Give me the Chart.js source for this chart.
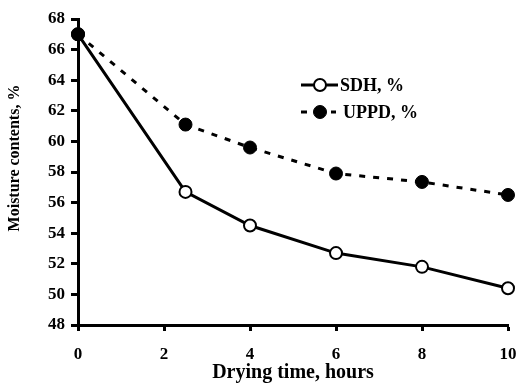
<!DOCTYPE html>
<html>
<head>
<meta charset="utf-8">
<script src="https://cdn.jsdelivr.net/npm/chart.js@4/dist/chart.umd.min.js"></script>
<style>
  html, body { margin: 0; padding: 0; background: #fff; }
  #wrap { width: 522px; height: 385px; }
</style>
</head>
<body>
<div id="wrap"><canvas id="moisture-chart"></canvas></div>
<script>
// Data
const hours = [0, 2.5, 4, 6, 8, 10];
const sdhValues = [67, 56.7, 54.5, 52.7, 51.8, 50.4];
const uppdValues = [67, 61.1, 59.6, 57.9, 57.35, 56.5];
const xTickValues = [0, 2, 4, 6, 8, 10];
const yTickValues = [48, 50, 52, 54, 56, 58, 60, 62, 64, 66, 68];
const seriesNames = ['SDH, %', 'UPPD, %'];
const yTitle = 'Moisture contents, %';
const xTitle = 'Drying time, hours';

const FONT = '"Liberation Serif", "Times New Roman", serif';

/**
 * Legend drawn inside the plot, plus the y title (sits a bit above centre)
 */
const extras = {
    id: 'extras',
    afterDraw(chart) {
        const ctx = chart.ctx;
        const x0 = 301, x1 = 338, xm = 320;
        const rows = [85, 112];
        ctx.save();
        // legend rows, in dataset order
        [0, 1].forEach(i => {
            const ds = chart.data.datasets[i];
            const y = rows[i];
            ctx.strokeStyle = '#000';
            ctx.lineWidth = 3;
            ctx.beginPath();
            if (ds.borderDash && ds.borderDash.length) {
                ctx.moveTo(x0, y); ctx.lineTo(x0 + 6, y);
                ctx.moveTo(x1 - 7, y); ctx.lineTo(x1 - 2, y);
            } else {
                ctx.moveTo(x0, y); ctx.lineTo(x1, y);
            }
            ctx.stroke();
            ctx.beginPath();
            ctx.arc(xm, y, ds.pointRadius, 0, Math.PI * 2);
            ctx.fillStyle = ds.pointBackgroundColor;
            ctx.fill();
            ctx.lineWidth = ds.pointBorderWidth;
            ctx.stroke();
            ctx.fillStyle = '#000';
            ctx.font = 'bold 18px ' + FONT;
            ctx.textBaseline = 'middle';
            ctx.fillText(ds.label, i === 0 ? 340 : 343, y + 1);
        });
        // y axis title
        ctx.translate(15, 158);
        ctx.rotate(-Math.PI / 2);
        ctx.font = 'bold 16px ' + FONT;
        ctx.textAlign = 'center';
        ctx.textBaseline = 'middle';
        ctx.fillStyle = '#000';
        ctx.fillText(yTitle, 0, 0);
        ctx.restore();
    }
};

new Chart(document.getElementById('moisture-chart'), {
    type: 'line',
    data: {
        labels: hours,
        datasets: [{
            label: seriesNames[0],
            data: hours.map((h, i) => ({ x: h, y: sdhValues[i] })),
            borderColor: '#000',
            borderWidth: 3,
            pointRadius: 6,
            pointBackgroundColor: '#fff',
            pointBorderColor: '#000',
            pointBorderWidth: 2,
            tension: 0,
            clip: false,
            order: 2
        }, {
            label: seriesNames[1],
            data: hours.map((h, i) => ({ x: h, y: uppdValues[i] })),
            borderColor: '#000',
            borderWidth: 3,
            borderDash: [6, 8],
            pointRadius: 6.5,
            pointBackgroundColor: '#000',
            pointBorderColor: '#000',
            pointBorderWidth: 1,
            tension: 0,
            clip: false,
            order: 1
        }]
    },
    options: {
        responsive: true,
        maintainAspectRatio: false,
        animation: false,
        layout: { padding: { left: 0, right: 14, top: 19, bottom: 0 } },
        plugins: {
            legend: { display: false },
            tooltip: { enabled: false }
        },
        scales: {
            x: {
                type: 'linear',
                min: 0,
                max: 10,
                afterBuildTicks: (scale) => { scale.ticks = xTickValues.map(v => ({ value: v })); },
                afterFit: (scale) => {
                    scale.height = 60;
                    scale.paddingRight = 0;
                    scale.paddingLeft = 0;
                },
                border: { display: true, color: '#000', width: 3 },
                grid: { drawOnChartArea: false, tickLength: 6, tickColor: '#000', tickWidth: 3 },
                ticks: { color: '#000', font: { family: FONT, size: 17, weight: 'bold' }, padding: 13 },
                title: {
                    display: true,
                    text: xTitle,
                    color: '#000',
                    font: { family: FONT, size: 20, weight: 'bold' },
                    padding: { top: 0, bottom: 0 }
                }
            },
            y: {
                min: 48,
                max: 68,
                afterBuildTicks: (scale) => { scale.ticks = yTickValues.map(v => ({ value: v })); },
                afterFit: (scale) => { scale.width = 78; },
                border: { display: true, color: '#000', width: 3 },
                grid: { drawOnChartArea: false, tickLength: 7, tickColor: '#000', tickWidth: 3 },
                ticks: { color: '#000', font: { family: FONT, size: 17, weight: 'bold' }, padding: 6 }
            }
        }
    },
    plugins: [extras]
});
</script>
</body>
</html>
